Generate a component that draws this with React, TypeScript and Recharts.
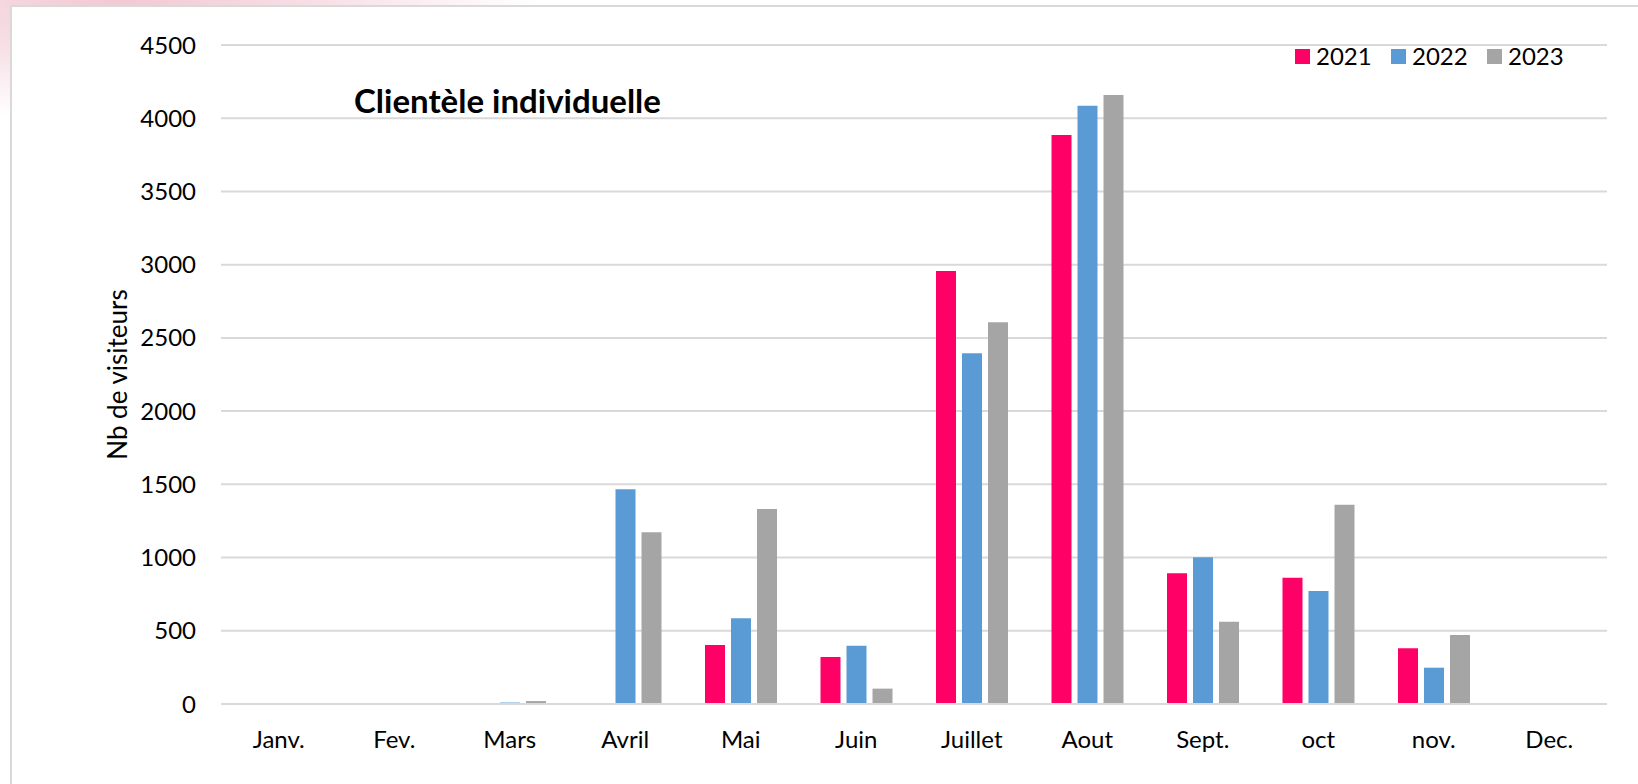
import { BarChart, Bar, XAxis, YAxis, CartesianGrid } from "recharts";

const months = ["Janv.", "Fev.", "Mars", "Avril", "Mai", "Juin", "Juillet", "Aout", "Sept.", "oct", "nov.", "Dec."];
const visits2021 = [0, 0, 0, 0, 403, 321, 2957, 3886, 892, 862, 380, 0];
const visits2022 = [0, 0, 10, 1466, 585, 398, 2395, 4086, 1002, 772, 248, 0];
const visits2023 = [0, 0, 20, 1172, 1332, 105, 2606, 4159, 562, 1360, 471, 0];
const yTicks = [0, 500, 1000, 1500, 2000, 2500, 3000, 3500, 4000, 4500];

const series = [
  { key: "y2021", name: "2021", color: "#FF0066" },
  { key: "y2022", name: "2022", color: "#5B9BD5" },
  { key: "y2023", name: "2023", color: "#A5A5A5" },
];

const data = months.map((m, i) => ({
  month: m,
  y2021: visits2021[i],
  y2022: visits2022[i],
  y2023: visits2023[i],
}));

const font = "Lato, 'Open Sans', sans-serif";

export default function App() {
  return (
    <div
      style={{
        position: "absolute",
        top: 0,
        left: 0,
        width: 1638,
        height: 784,
        overflow: "hidden",
        fontFamily: font,
        background:
          "radial-gradient(ellipse 420px 120px at 120px 0px, #f1c9d4 0%, #f7e1e7 50%, #ffffff 100%)",
      }}
    >
      {/* white frame */}
      <div
        style={{
          position: "absolute",
          left: 10,
          top: 5,
          width: 1640,
          height: 800,
          background: "#fff",
          border: "2px solid #d9d9d9",
        }}
      />

      <div style={{ position: "absolute", left: 0, top: 0 }}>
        <BarChart
          width={1638}
          height={784}
          data={data}
          margin={{ top: 45, right: 31, bottom: 0, left: 0 }}
          barSize={20}
          barGap={6}
        >
          <CartesianGrid vertical={false} stroke="#d9d9d9" strokeWidth={2} />
          <XAxis
            dataKey="month"
            height={80}
            tickLine={false}
            tickSize={0}
            tickMargin={27}
            axisLine={{ stroke: "#d9d9d9", strokeWidth: 2 }}
            tick={{ fill: "#000", fontSize: 24, fontFamily: font }}
            interval={0}
          />
          <YAxis
            width={221}
            domain={[0, 4500]}
            ticks={yTicks}
            tickLine={false}
            axisLine={false}
            tickSize={0}
            tickMargin={25}
            tick={{ fill: "#000", fontSize: 24, fontFamily: font }}
            label={{
              value: "Nb de visiteurs",
              angle: -90,
              position: "insideLeft",
              offset: 118,
              fontSize: 26,
              fill: "#000",
              fontFamily: font,
              style: { textAnchor: "middle", fill: "#000", fontSize: 26, fontFamily: font },
            }}
          />
          {series.map((s) => (
            <Bar key={s.key} dataKey={s.key} name={s.name} fill={s.color} isAnimationActive={false} />
          ))}
        </BarChart>
      </div>

      {/* title */}
      <div
        style={{
          position: "absolute",
          left: 354,
          top: 80,
          fontSize: 33,
          fontWeight: 700,
          color: "#000",
          whiteSpace: "nowrap",
        }}
      >
        Clientèle individuelle
      </div>

      {/* legend */}
      <div style={{ position: "absolute", left: 1295, top: 41, display: "flex", alignItems: "center" }}>
        {series.map((s) => (
          <div key={s.key} style={{ display: "flex", alignItems: "center", width: 96 }}>
            <span style={{ width: 15, height: 15, background: s.color, display: "inline-block", marginRight: 6 }} />
            <span style={{ fontSize: 24, color: "#000", lineHeight: "30px" }}>{s.name}</span>
          </div>
        ))}
      </div>
    </div>
  );
}
